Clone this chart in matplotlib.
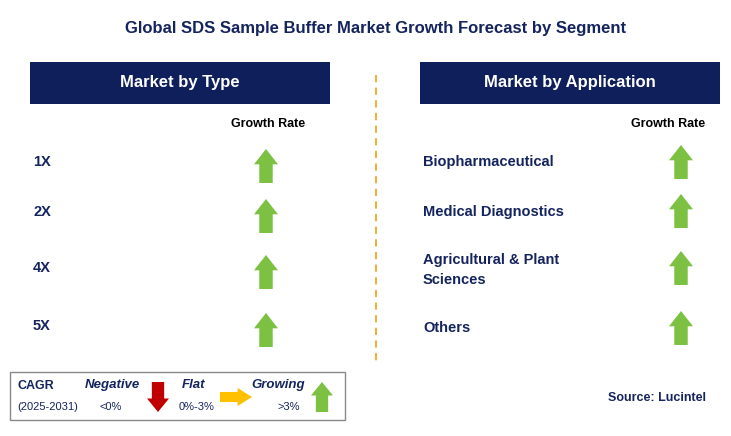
import matplotlib
matplotlib.use("Agg")
import matplotlib.pyplot as plt
from matplotlib.patches import Rectangle, Polygon

title = "Global SDS Sample Buffer Market Growth Forecast by Segment"
types = ["1X", "2X", "4X", "5X"]
type_growth = ["up", "up", "up", "up"]
applications = ["Biopharmaceutical", "Medical Diagnostics", "Agricultural & Plant\nSciences", "Others"]
app_growth = ["up", "up", "up", "up"]
legend_labels = ["Negative", "Flat", "Growing"]
legend_ranges = ["<0%", "0%-3%", ">3%"]
source = "Source: Lucintel"

NAVY = "#0f1f5c"
TXT = "#14245e"
GREEN = "#7cc142"
plt.rcParams["font.family"] = "Liberation Sans"

fig = plt.figure(figsize=(7.31, 4.36), dpi=100)
ax = fig.add_axes([0, 0, 1, 1])
ax.set_xlim(0, 731); ax.set_ylim(436, 0); ax.axis("off")

def arrow(cx, cy, direction, color, w=24, h=34):
    hw, hh = w / 2, h / 2
    sw = w * 0.28
    hd = h * 0.45
    if direction == "up":
        pts = [(cx, cy - hh), (cx + hw, cy - hh + hd), (cx + sw, cy - hh + hd), (cx + sw, cy + hh),
               (cx - sw, cy + hh), (cx - sw, cy - hh + hd), (cx - hw, cy - hh + hd)]
    elif direction == "down":
        pts = [(cx, cy + hh), (cx + hw, cy + hh - hd), (cx + sw, cy + hh - hd), (cx + sw, cy - hh),
               (cx - sw, cy - hh), (cx - sw, cy + hh - hd), (cx - hw, cy + hh - hd)]
    else:
        pts = [(cx + hh, cy), (cx + hh - hd, cy - hw), (cx + hh - hd, cy - sw), (cx - hh, cy - sw),
               (cx - hh, cy + sw), (cx + hh - hd, cy + sw), (cx + hh - hd, cy + hw)]
    ax.add_patch(Polygon(pts, closed=True, facecolor=color, edgecolor="none"))

ax.text(376, 28, title, ha="center", va="center", fontsize=12, fontweight="bold", color=TXT)

for x0, lbl in [(30, "Market by Type"), (420, "Market by Application")]:
    ax.add_patch(Rectangle((x0, 62), 300, 42, facecolor=NAVY, edgecolor="none"))
    ax.text(x0 + 150, 83, lbl, ha="center", va="center", fontsize=12, fontweight="bold", color="white")

ax.plot([376, 376], [75, 365], color="#f5a623", lw=1.3, ls=(0, (4, 3)))

ax.text(268, 124, "Growth Rate", ha="center", va="center", fontsize=9, fontweight="bold", color="black")
ax.text(668, 124, "Growth Rate", ha="center", va="center", fontsize=9, fontweight="bold", color="black")

for lbl, g, y in zip(types, type_growth, [162, 212, 268, 326]):
    ax.text(33, y, lbl, ha="left", va="center", fontsize=10.5, fontweight="bold", color=TXT)
    arrow(266, y + 4, g, GREEN)
for lbl, g, y, ay in zip(applications, app_growth, [162, 212, 270, 328], [162, 211, 268, 328]):
    ax.text(423, y, lbl, ha="left", va="center", fontsize=10.5, fontweight="bold", color=TXT, linespacing=1.5)
    arrow(681, ay, g, GREEN)

ax.add_patch(Rectangle((10, 372), 335, 48, facecolor="white", edgecolor="#888888", lw=1))
ax.text(17, 386, "CAGR", fontsize=9, fontweight="bold", color=TXT, va="center")
ax.text(17, 407, "(2025-2031)", fontsize=8, color=TXT, va="center")
for lbl, rng, lx, rx in zip(legend_labels, legend_ranges, [112, 194, 278], [111, 197, 289]):
    ax.text(lx, 385, lbl, ha="center", fontsize=9.5, fontweight="bold", style="italic", color=TXT, va="center")
    ax.text(rx, 407, rng, ha="center", fontsize=8, color=TXT, va="center")
arrow(158, 397, "down", "#c00000", w=22, h=30)
arrow(236, 397, "right", "#ffc000", w=18, h=32)
arrow(322, 397, "up", GREEN, w=22, h=30)

ax.text(657, 398, source, ha="center", va="center", fontsize=9, fontweight="bold", color=TXT)

fig.savefig("out.png", dpi=100)
